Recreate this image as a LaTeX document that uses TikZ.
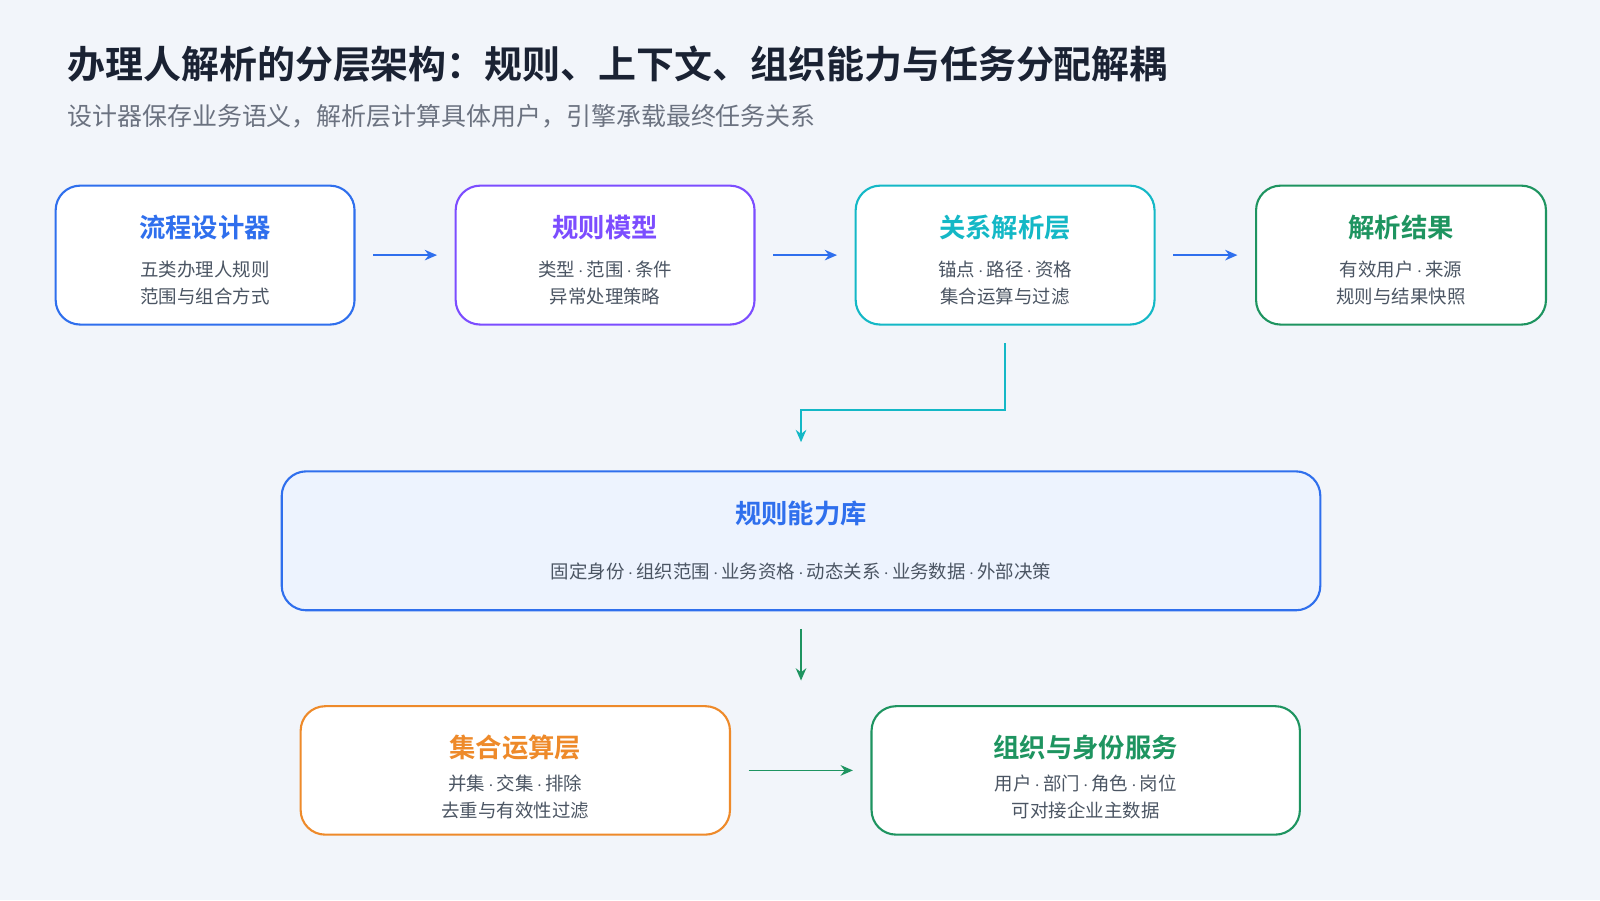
\documentclass[tikz,border=0pt]{standalone}
\usepackage{fontspec}
\setmainfont{Noto Sans CJK SC}[BoldFont={Noto Sans CJK SC Bold}]
\usetikzlibrary{positioning,calc,arrows.meta}
\definecolor{bgpage}{HTML}{F2F5FA}
\definecolor{ink}{HTML}{1A2233}
\definecolor{mute}{HTML}{6B7280}
\definecolor{body}{HTML}{4B5563}
\definecolor{cblue}{HTML}{2F6FED}
\definecolor{cpurple}{HTML}{7C4DFF}
\definecolor{cteal}{HTML}{14B8C6}
\definecolor{cgreen}{HTML}{1E9460}
\definecolor{corange}{HTML}{EE8A2A}
\definecolor{lightblue}{HTML}{EDF3FE}
\newcommand{\sep}{\,$\cdot$\,}
\begin{document}
\begin{tikzpicture}[x=0.02041cm,y=-0.02041cm,>={Stealth[length=7pt,width=6pt]},
                box/.style={draw,line width=1.2pt,rounded corners=14pt,fill=white,
                            minimum width=5.98cm,minimum height=2.78cm},
                head/.style={font=\bfseries\fontsize{15}{18}\selectfont},
                desc/.style={font=\fontsize{10.5}{15.5}\selectfont,text=body,align=center},
                link/.style={->,line width=1pt}]
    \fill[bgpage] (0,0) rectangle (1568,882);
    \useasboundingbox (0,0) rectangle (1568,882);
%Titles
    \node[anchor=west,text=ink,font=\bfseries\fontsize{21.6}{26}\selectfont] (title) at (60,63) {办理人解析的分层架构：规则、上下文、组织能力与任务分配解耦};
    \node[anchor=west,text=mute,font=\fontsize{14.2}{17}\selectfont] (subtitle) at (60,114) {设计器保存业务语义，解析层计算具体用户，引擎承载最终任务关系};
%Top row
    \node[box,draw=cblue] (designer) at (201,250) {};
    \node[box,draw=cpurple] (model) at (593,250) {};
    \node[box,draw=cteal] (resolver) at (985,250) {};
    \node[box,draw=cgreen,minimum width=5.8cm] (result) at (1373,250) {};
    \node[head,text=cblue] at (201,223) {流程设计器};
    \node[desc] at (201,277) {五类办理人规则\\范围与组合方式};
    \node[head,text=cpurple] at (593,223) {规则模型};
    \node[desc] at (593,277) {类型\sep 范围\sep 条件\\异常处理策略};
    \node[head,text=cteal] at (985,223) {关系解析层};
    \node[desc] at (985,277) {锚点\sep 路径\sep 资格\\集合运算与过滤};
    \node[head,text=cgreen] at (1373,223) {解析结果};
    \node[desc] at (1373,277) {有效用户\sep 来源\\规则与结果快照};
%Capability library
    \node[box,draw=cblue,fill=lightblue,minimum width=20.78cm] (library) at (785,530) {};
    \node[head,text=cblue] at (785,503) {规则能力库};
    \node[desc] at (785,560) {固定身份\sep 组织范围\sep 业务资格\sep 动态关系\sep 业务数据\sep 外部决策};
%Bottom row
    \node[box,draw=corange,minimum width=8.59cm,minimum height=2.57cm] (setops) at (505,755) {};
    \node[box,draw=cgreen,minimum width=8.57cm,minimum height=2.57cm] (orgsvc) at (1064,755) {};
    \node[head,text=corange] at (505,733) {集合运算层};
    \node[desc] at (505,781) {并集\sep 交集\sep 排除\\去重与有效性过滤};
    \node[head,text=cgreen] at (1064,733) {组织与身份服务};
    \node[desc] at (1064,781) {用户\sep 部门\sep 角色\sep 岗位\\可对接企业主数据};
%Links
    \draw[link,cblue,shorten <=10pt,shorten >=10pt] (designer) -- (model);
    \draw[link,cblue,shorten <=10pt,shorten >=10pt] (model) -- (resolver);
    \draw[link,cblue,shorten <=10pt,shorten >=10pt] (resolver) -- (result);
    \draw[link,cteal,shorten <=10pt,shorten >=16pt] (resolver.south) |- (785,402) -- (library.north);
    \draw[link,cgreen,shorten <=10pt,shorten >=14pt] (library.south) -- (setops.north -| library.south);
    \draw[link,cgreen,shorten <=10pt,shorten >=10pt] (setops) -- (orgsvc);
\end{tikzpicture}
\end{document}
